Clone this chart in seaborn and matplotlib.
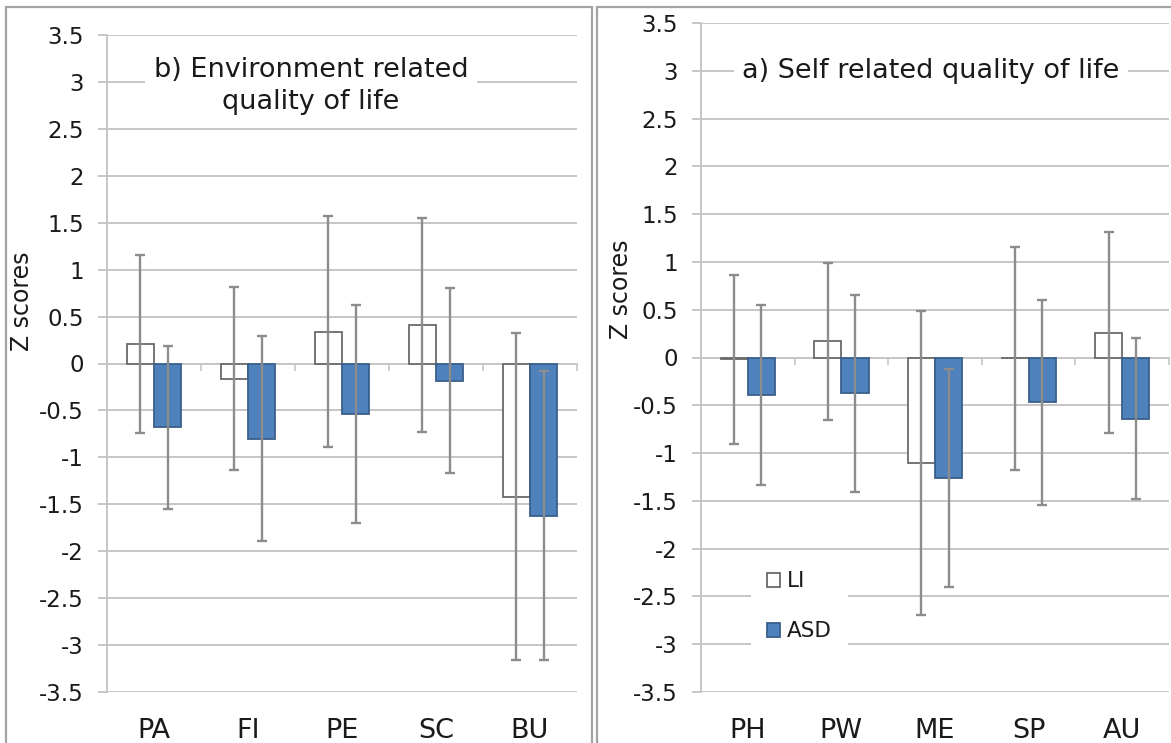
import numpy as np
import pandas as pd
import matplotlib
matplotlib.use('Agg')
import matplotlib.pyplot as plt
import seaborn as sns
from matplotlib.patches import Rectangle, Patch

# b) environment related quality of life
env_cats = ['PA', 'FI', 'PE', 'SC', 'BU']
env_li = [0.21, -0.16, 0.34, 0.41, -1.42]
env_li_sd = [0.95, 0.98, 1.23, 1.14, 1.74]
env_asd = [-0.68, -0.80, -0.535, -0.185, -1.62]
env_asd_sd = [0.865, 1.09, 1.16, 0.985, 1.54]

# a) self related quality of life
self_cats = ['PH', 'PW', 'ME', 'SP', 'AU']
self_li = [-0.02, 0.17, -1.10, -0.01, 0.26]
self_li_sd = [0.88, 0.82, 1.59, 1.17, 1.05]
self_asd = [-0.39, -0.375, -1.26, -0.47, -0.64]
self_asd_sd = [0.94, 1.03, 1.14, 1.07, 0.84]

groups = ['LI', 'ASD']
yticks = np.arange(-3.5, 3.51, 0.5)

GRID = '#c6c6c6'
ERR = '#8c8c8c'
TXT = '#1a1a1a'
BLUE = '#4f81bd'
EDGES = {'LI': '#6a6a6a', 'ASD': '#3b5f8c'}
FILLS = {'LI': 'white', 'ASD': BLUE}

sns.set_style('white')
plt.rcParams['font.family'] = ['DejaVu Sans']


def make_df(cats, li, asd):
    return pd.DataFrame({
        'cat': cats * 2,
        'group': ['LI'] * len(cats) + ['ASD'] * len(cats),
        'z': list(li) + list(asd),
    })


def draw_panel(ax, cats, li, li_sd, asd, asd_sd, title, title_xy, linesp, label_y, label_x, legend):
    df = make_df(cats, li, asd)
    sns.barplot(data=df, x='cat', y='z', hue='group', hue_order=groups,
                palette=FILLS, saturation=1, width=0.58, errorbar=None,
                legend=False, ax=ax, zorder=3)
    sds = {'LI': li_sd, 'ASD': asd_sd}
    for cont, g in zip(ax.containers, groups):
        xs = [b.get_x() + b.get_width() / 2 for b in cont]
        hs = [b.get_height() for b in cont]
        for b in cont:
            b.set_edgecolor(EDGES[g])
            b.set_linewidth(1.3)
        ax.errorbar(xs, hs, yerr=sds[g], fmt='none', ecolor=ERR,
                    elinewidth=1.7, capsize=3.8, capthick=1.7, zorder=4)

    ax.set_ylim(-3.5, 3.5)
    ax.set_xlim(-0.5, len(cats) - 0.5)
    ax.set_yticks(yticks)
    ax.set_yticklabels([f'{v:g}' for v in yticks])
    ax.yaxis.grid(True, color=GRID, lw=1.4)
    ax.set_axisbelow(True)
    for s in ['top', 'right', 'bottom']:
        ax.spines[s].set_visible(False)
    ax.spines['left'].set_color(GRID)
    ax.spines['left'].set_linewidth(1.4)
    ax.tick_params(axis='y', length=6.5, width=1.4, color=GRID, pad=10,
                   labelsize=16.5, labelcolor=TXT, left=True)
    ax.tick_params(axis='x', length=0, pad=19, labelsize=19.5, labelcolor=TXT)
    ax.set_xlabel('')
    ax.set_ylabel('Z scores', fontsize=17, color=TXT)
    ax.yaxis.set_label_coords(label_x, label_y)

    # category boundary ticks on the zero line
    sec = ax.secondary_xaxis(0, transform=ax.transData)
    sec.set_xticks(np.arange(-0.5, len(cats), 1.0))
    sec.set_xticklabels([])
    sec.spines['bottom'].set_color(GRID)
    sec.spines['bottom'].set_linewidth(1.4)
    sec.tick_params(length=5, width=1.2, color=GRID, direction='out')

    ax.text(title_xy[0], title_xy[1], title, transform=ax.transAxes,
            ha='center', va='center', fontsize=19.5, color=TXT,
            linespacing=linesp, zorder=5,
            bbox=dict(facecolor='white', edgecolor='none', pad=6))

    if legend:
        handles = [Patch(facecolor=FILLS[g], edgecolor=EDGES[g], lw=1.3) for g in groups]
        ax.legend(handles, groups, loc='center', bbox_to_anchor=(0.21, 0.128),
                  frameon=True, facecolor='white', edgecolor='none',
                  framealpha=1, fontsize=15.5, handlelength=0.62,
                  handleheight=0.62, handletextpad=0.3, labelspacing=1.4,
                  borderpad=0.75, borderaxespad=0, fancybox=False,
                  labelcolor=TXT)


fig = plt.figure(figsize=(11.71, 7.43), dpi=100)
ax_env = fig.add_axes([107 / 1171, 1 - 692 / 743, 470 / 1171, 657 / 743])
ax_self = fig.add_axes([701 / 1171, 1 - 692 / 743, 468 / 1171, 669 / 743])

draw_panel(ax_env, env_cats, env_li, env_li_sd, env_asd, env_asd_sd,
           'b) Environment related\nquality of life', (0.434, 0.922), 1.3,
           0.595, -0.155, False)
draw_panel(ax_self, self_cats, self_li, self_li_sd, self_asd, self_asd_sd,
           'a) Self related quality of life', (0.491, 0.928), 1.2,
           0.602, -0.145, True)

# panel frames
fig.add_artist(Rectangle((6 / 1171, -0.01), 586 / 1171, 1.01 - 7 / 743,
                         transform=fig.transFigure, fill=False,
                         edgecolor='#a3a3a3', lw=1.6))
fig.add_artist(Rectangle((597 / 1171, -0.01), 0.6, 1.01 - 7 / 743,
                         transform=fig.transFigure, fill=False,
                         edgecolor='#a3a3a3', lw=1.6))

fig.savefig('out.png', dpi=100, facecolor='white')
